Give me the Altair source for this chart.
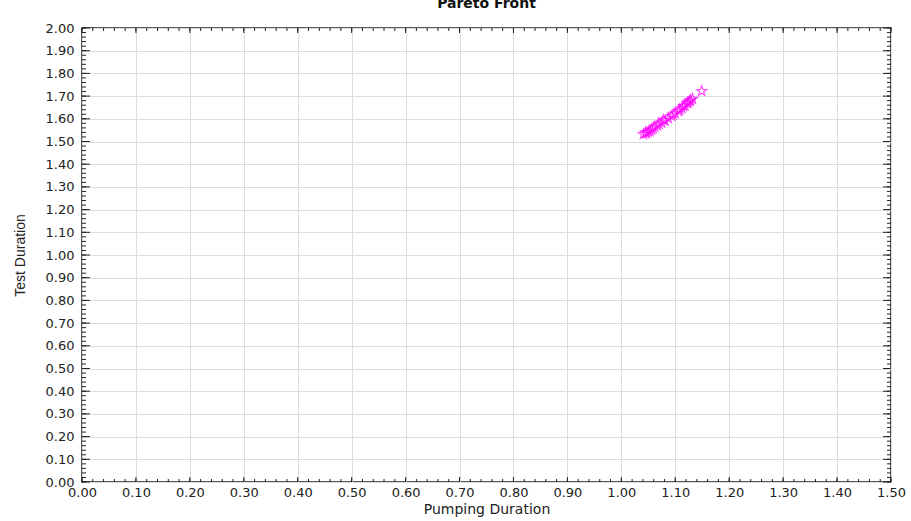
import altair as alt
import pandas as pd

# Pareto-optimal solutions: pumping duration vs. test duration
pumping = [1.149, 1.132, 1.128, 1.127, 1.124, 1.122, 1.118, 1.115, 1.112, 1.108,
           1.106, 1.100, 1.096, 1.093, 1.087, 1.081, 1.078, 1.075, 1.070, 1.067,
           1.062, 1.059, 1.056, 1.053, 1.050, 1.046, 1.045, 1.041]
test = [1.722, 1.687, 1.682, 1.678, 1.672, 1.668, 1.658, 1.655, 1.646, 1.640,
        1.634, 1.624, 1.618, 1.612, 1.602, 1.592, 1.595, 1.583, 1.578, 1.570,
        1.565, 1.558, 1.552, 1.546, 1.542, 1.536, 1.540, 1.532]

# Axis tick positions
x_major = [round(i * 0.1, 2) for i in range(16)]
x_minor = [round(i * 0.02, 2) for i in range(76)]
y_major = [round(i * 0.1, 2) for i in range(21)]
y_minor = [round(i * 0.02, 2) for i in range(101)]

W, H = 809, 454
FONT = "DejaVu Sans"
INK = "#222"

# five-pointed star outline in unit symbol coordinates
STAR = ("M0,-1L0.235,-0.324L0.951,-0.309L0.38,0.124L0.588,0.809L0,0.4"
        "L-0.588,0.809L-0.38,0.124L-0.951,-0.309L-0.235,-0.324Z")

df = pd.DataFrame({"pumping": pumping, "test": test})
xs = alt.Scale(domain=[0, 1.5], nice=False, zero=False)
ys = alt.Scale(domain=[0, 2.0], nice=False, zero=False)

# one shared axis definition per channel, used by every layer
x_axis = alt.Axis(
    orient="bottom", values=x_major, format=".2f", title="Pumping Duration",
    ticks=False, domain=False, grid=True, gridColor="#dcdcdc", gridWidth=1,
    labelFont=FONT, labelFontSize=13, labelColor=INK, labelPadding=4,
    titleFont=FONT, titleFontSize=14, titleFontWeight="normal",
    titleColor=INK, titlePadding=3, labelFlush=False)
y_axis = alt.Axis(
    orient="left", values=y_major, format=".2f", title="Test Duration",
    ticks=False, domain=False, grid=True, gridColor="#dcdcdc", gridWidth=1,
    labelFont=FONT, labelFontSize=13, labelColor=INK, labelPadding=8,
    titleFont="Liberation Sans Narrow, Liberation Sans", titleFontSize=14,
    titleFontWeight="normal", titleColor=INK, titlePadding=18,
    labelFlush=False)

points = alt.Chart(df).mark_point(
    shape=STAR, filled=False, color="#ff00ff", size=110, strokeWidth=1.2
).encode(
    x=alt.X("pumping:Q", scale=xs, axis=x_axis),
    y=alt.Y("test:Q", scale=ys, axis=y_axis),
)


def x_ticks(vals, y_from, y_to):
    # inward tick marks along a horizontal edge
    return alt.Chart(pd.DataFrame({"v": vals})).mark_rule(
        color=INK, strokeWidth=1
    ).encode(
        x=alt.X("v:Q", scale=xs, axis=x_axis),
        y=alt.value(y_from), y2=alt.value(y_to),
    )


def y_ticks(vals, x_from, x_to):
    # inward tick marks along a vertical edge
    return alt.Chart(pd.DataFrame({"v": vals})).mark_rule(
        color=INK, strokeWidth=1
    ).encode(
        y=alt.Y("v:Q", scale=ys, axis=y_axis),
        x=alt.value(x_from), x2=alt.value(x_to),
    )


chart = alt.layer(
    points,
    x_ticks(x_minor, H, H - 3),
    x_ticks(x_major, H, H - 5),
    x_ticks(x_minor, 0, 3),
    x_ticks(x_major, 0, 5),
    y_ticks(y_minor, 0, 4),
    y_ticks(y_major, 0, 8),
    y_ticks(y_minor, W, W - 4),
    y_ticks(y_major, W, W - 8),
).properties(
    width=W, height=H,
    title=alt.Title("Pareto Front", font=FONT, fontSize=14, fontWeight="bold",
                    color="#111", offset=0, baseline="alphabetic",
                    anchor="middle"),
    autosize=alt.AutoSizeParams(type="none"),
    padding={"left": 82, "top": 28, "right": 20, "bottom": 39},
).configure_view(
    stroke=INK, strokeWidth=1.5
)

chart.save("out.html", embed_options={"renderer": "svg", "actions": False})
